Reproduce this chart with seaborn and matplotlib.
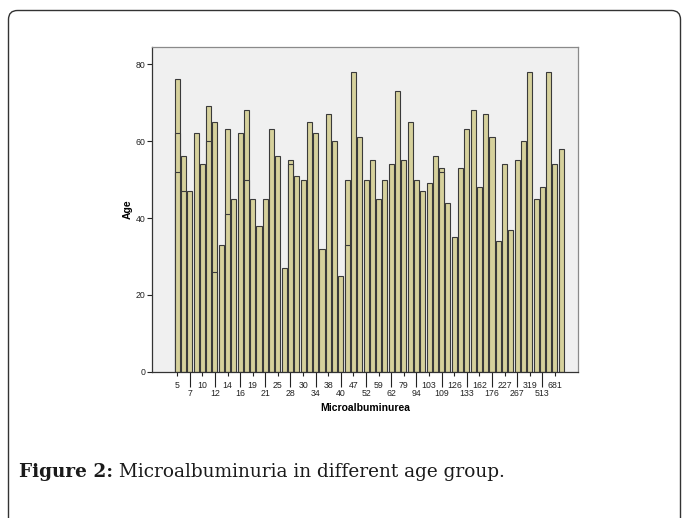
import matplotlib
matplotlib.use("Agg")
import matplotlib.pyplot as plt
from matplotlib.patches import FancyBboxPatch
import pandas as pd
import seaborn as sns

# Ages per bar (one bar per microalbumin value). Bars with several cases
# are drawn as overlapping bars, tallest first.
bar_ages = [
    [76, 62, 52], [56, 47], [47], [62], [54], [69, 60], [65, 26], [33],
    [63, 41], [45], [62], [68, 50], [45], [38], [45], [63], [56], [27],
    [55, 54], [51], [50], [65], [62], [32], [67], [60], [25], [50, 33],
    [78], [61], [50], [55], [45], [50], [54], [73], [55], [65], [50], [47],
    [49], [56], [53, 52], [44], [35], [53], [63], [68], [48], [67], [61],
    [34], [54], [37], [55], [60], [78], [45], [48], [78], [54], [58],
]

# Only every second category is labelled in the original
tick_labels = ['5', '7', '10', '12', '14', '16', '19', '21', '25', '28', '30',
               '34', '38', '40', '47', '52', '59', '62', '79', '94', '103',
               '109', '126', '133', '162', '176', '227', '267', '319', '513',
               '681']

x_title = 'Microalbuminurea'
y_title = 'Age'
caption_bold = 'Figure 2:'
caption_text = ' Microalbuminuria in different age group.'

rows = []
for pos, ages in enumerate(bar_ages):
    for layer, age in enumerate(sorted(ages, reverse=True)):
        rows.append({'pos': pos, 'age': age, 'layer': layer})
df = pd.DataFrame(rows)
positions = list(range(len(bar_ages)))

plt.rcParams['font.family'] = ['Liberation Sans', 'DejaVu Sans']

fig = plt.figure(figsize=(6.83, 5.18), dpi=100)

# background layer in pixel coordinates: rounded frame and caption
bg = fig.add_axes([0, 0, 1, 1], zorder=-1)
bg.set_xlim(0, 683)
bg.set_ylim(518, 0)
bg.axis('off')
bg.add_patch(FancyBboxPatch((8.5, 10.5), 672, 560,
                            boxstyle='round,pad=0,rounding_size=9',
                            fill=False, edgecolor='#333333', linewidth=1.0,
                            clip_on=False))
t1 = bg.text(19, 477, caption_bold, fontsize=13.3, fontweight='bold',
             family=['DejaVu Serif'], va='baseline', color='#1a1a1a')
bg.annotate(caption_text, xy=(1, 0), xycoords=t1, fontsize=13.3,
            family=['DejaVu Serif'], va='bottom', color='#1a1a1a')

ax = fig.add_axes([0.2225, 0.2819, 0.6237, 0.6279])
ax.set_facecolor('#F0F0F0')

for layer in sorted(df['layer'].unique()):
    sns.barplot(
        data=df[df['layer'] == layer],
        x='pos',
        y='age',
        order=positions,
        color='#D6D19C',
        saturation=1,
        edgecolor='#3a3a3a',
        linewidth=0.8,
        width=0.8,
        errorbar=None,
        ax=ax,
    )

ax.set_xlim(-4, 63.65)
ax.set_ylim(0, 84.5)
ax.set_yticks([0, 20, 40, 60, 80])

# staggered category labels: upper row on major ticks, lower on minor ticks
ax.set_xticks(positions[0::4], tick_labels[0::2])
ax.set_xticks(positions[2::4], tick_labels[1::2], minor=True)
ax.tick_params(axis='x', which='major', length=3, width=0.8, pad=3.5,
               labelsize=6.3, colors='#222222')
ax.tick_params(axis='x', which='minor', length=11, width=0.8, pad=1.5,
               labelsize=6.3, colors='#222222')
ax.tick_params(axis='y', length=3.5, width=0.8, pad=1, labelsize=6.3,
               colors='#222222')

ax.set_xlabel(x_title, fontsize=7.5, fontweight='bold', labelpad=3)
ax.set_ylabel(y_title, fontsize=7.5, fontweight='bold', labelpad=2)

for side in ['left', 'bottom']:
    ax.spines[side].set_color('#333333')
    ax.spines[side].set_linewidth(0.9)
for side in ['top', 'right']:
    ax.spines[side].set_color('#8a8a8a')
    ax.spines[side].set_linewidth(0.9)

plt.savefig('out.png', dpi=100)
plt.close()
